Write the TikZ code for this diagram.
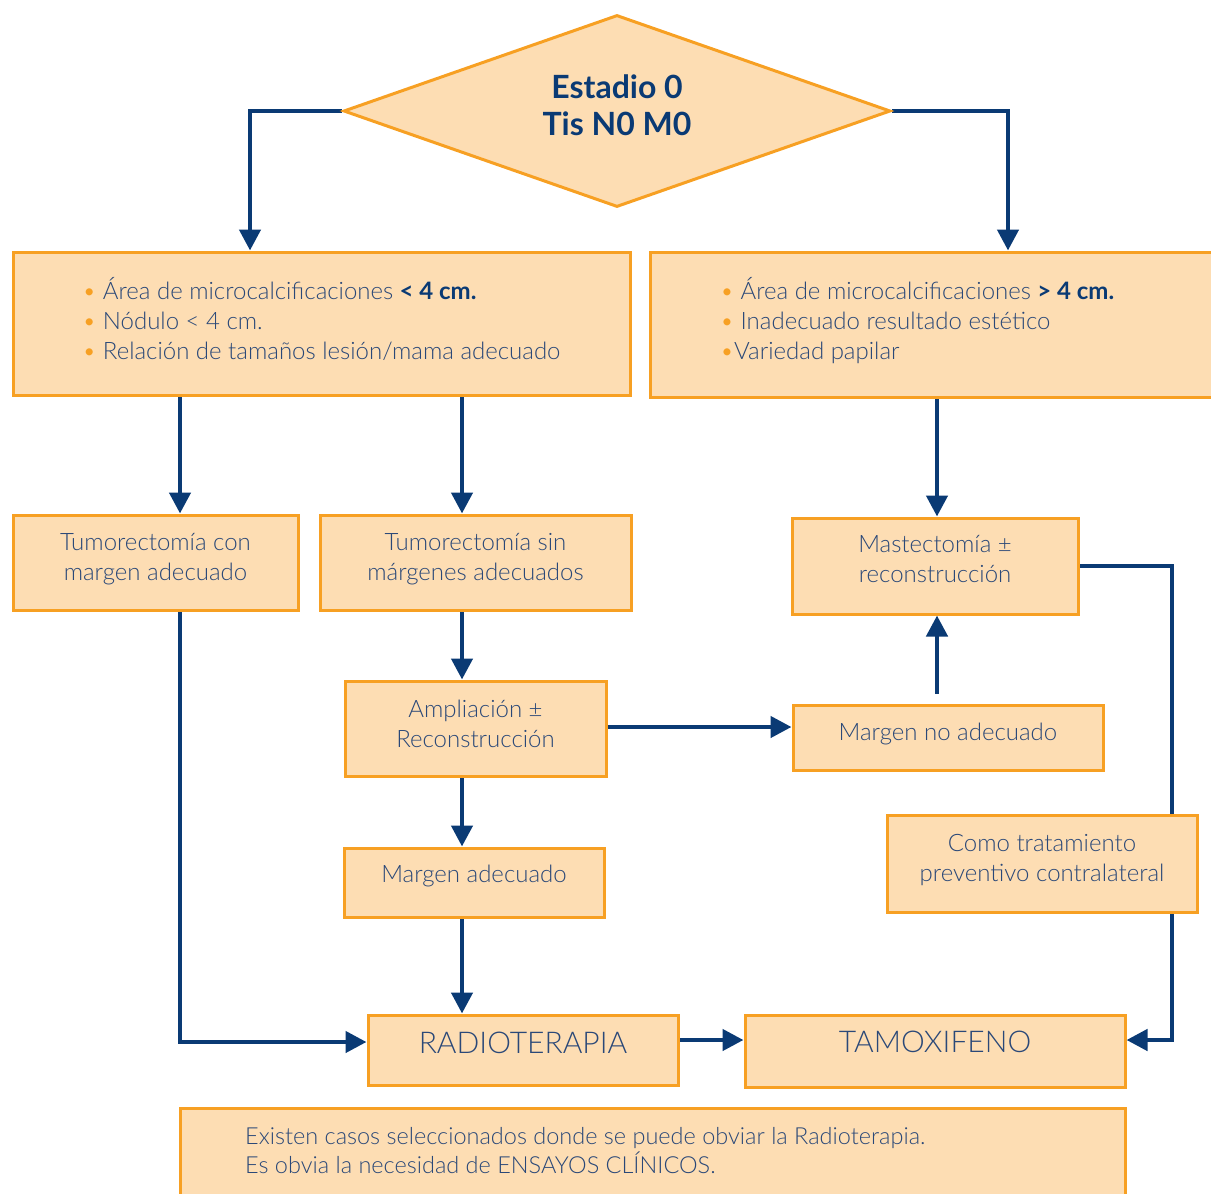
\documentclass[tikz,border=0pt]{standalone}
\usepackage{fontspec}
\setmainfont{Lato Light}[BoldFont={Lato Bold}]
\usetikzlibrary{shapes.geometric,arrows.meta,backgrounds}

\definecolor{boxfill}{HTML}{FDDDB3}
\definecolor{boxline}{HTML}{F7A023}
\definecolor{ink}{HTML}{2A4878}
\definecolor{navy}{HTML}{0A3A74}

\newcommand{\bul}{{\color{boxline}\textbullet}}

\tikzset{
  box/.style={draw=boxline, fill=boxfill, line width=3pt, text=ink, align=center,
    inner sep=0pt, font=\fontsize{24}{30}\selectfont},
  bigbox/.style={box, font=\fontsize{30}{34}\selectfont},
  arr/.style={draw=navy, line width=4.5pt, -{Triangle[length=21pt,width=21pt]}}
}

\begin{document}
\begin{tikzpicture}[x=1pt,y=-1pt]
  \useasboundingbox (0,0) rectangle (1211,1194);
  \clip (0,0) rectangle (1211,1194);

  % Stage
  \node[diamond, draw=boxline, fill=boxfill, line width=3pt, aspect=2.85,
    minimum width=547pt, minimum height=192pt, inner sep=0pt, text=navy, align=center,
    text depth=11pt, font=\bfseries\fontsize{32}{37}\selectfont] (dia) at (617,111)
    {Estadio 0\\Tis N0 M0};

  % Criteria
  \node[box, minimum width=617pt, minimum height=143pt, align=left, text depth=10pt]
    (crit1) at (321.5,323.5)
    {\bul{} Área de microcalcificaciones {\color{navy}\bfseries < 4 cm.}\\
     \bul{} Nódulo < 4 cm.\\
     \bul{} Relación de tamaños lesión/mama adecuado};
  \node[box, minimum width=575pt, minimum height=145pt] (crit2) at (937.5,324.5) {};
  \node[text=ink, align=left, anchor=west, inner sep=0pt,
    font=\fontsize{24}{30}\selectfont] (crit2txt) at (720,321)
    {\bul{} Área de microcalcificaciones {\color{navy}\bfseries > 4 cm.}\\
     \bul{} Inadecuado resultado estético\\
     \bul Variedad papilar};

  % Surgery
  \node[box, minimum width=285pt, minimum height=95pt, text depth=11pt] (tum1) at (155.5,562.5)
    {Tumorectomía con\\margen adecuado};
  \node[box, minimum width=311pt, minimum height=95pt, text depth=11pt] (tum2) at (475.5,562.5)
    {Tumorectomía sin\\márgenes adecuados};
  \node[box, minimum width=286pt, minimum height=96pt, text depth=14pt] (mast) at (935,566)
    {Mastectomía ±\\reconstrucción};
  \node[box, minimum width=261pt, minimum height=95pt, text depth=10pt] (amp) at (475.5,728.5)
    {Ampliación ±\\Reconstrucción};
  \node[box, minimum width=310pt, minimum height=65pt, text depth=11pt] (margno) at (948,737.5)
    {Margen no adecuado};
  \node[box, minimum width=260pt, minimum height=69pt, text depth=17pt] (margad) at (474,882.5)
    {Margen adecuado};
  \node[box, minimum width=310pt, minimum height=97pt, text depth=11pt] (prev) at (1042,863.5)
    {Como tratamiento\\preventivo contralateral};

  % Adjuvant
  \node[bigbox, minimum width=310pt, minimum height=70pt, text depth=14pt] (radio) at (523,1050)
    {RADIOTERAPIA};
  \node[bigbox, minimum width=380pt, minimum height=72pt, text depth=18pt] (tam) at (935,1051)
    {TAMOXIFENO};

  % Note
  \node[box, minimum width=945pt, minimum height=102pt] (note) at (652.5,1159) {};
  \node[text=ink, align=left, anchor=west, inner sep=0pt,
    font=\fontsize{23.5}{29}\selectfont] (notetxt) at (245,1151)
    {Existen casos seleccionados donde se puede obviar la Radioterapia.\\
     Es obvia la necesidad de ENSAYOS CLÍNICOS.};

  \coordinate (rt) at (1172,1040);

  % Connectors
  \begin{scope}[on background layer]
    \draw[arr] (dia.west) -| ([xshift=-71.5pt]crit1.north);
    \draw[arr] (dia.east) -| ([xshift=70.5pt]crit2.north);
    \draw[arr] ([xshift=-141.5pt]crit1.south) -- ([xshift=24.5pt]tum1.north);
    \draw[arr] ([xshift=140.5pt]crit1.south) -- ([xshift=-13.5pt]tum2.north);
    \draw[arr] ([xshift=-0.5pt]crit2.south) -- ([xshift=2pt]mast.north);
    \draw[arr] ([xshift=-13.5pt]tum2.south) -- ([xshift=-13.5pt]amp.north);
    \draw[arr] ([yshift=1.5pt]amp.east) -- ([yshift=10.5pt]margno.west);
    \draw[arr] ([xshift=-11pt,yshift=10pt]margno.north) -- ([xshift=2pt]mast.south);
    \draw[arr] ([xshift=-13.5pt]amp.south) -- ([xshift=-12pt]margad.north);
    \draw[arr] ([xshift=-12pt]margad.south) -- ([xshift=-61pt]radio.north);
    \draw[arr] ([xshift=24.5pt]tum1.south) |- ([yshift=8pt]radio.west);
    \draw[arr] ([yshift=10pt]radio.east) -- ([yshift=11pt]tam.west);
    \draw[arr] (mast.east) -| (rt) -- ([yshift=11pt]tam.east);
  \end{scope}
\end{tikzpicture}
\end{document}
